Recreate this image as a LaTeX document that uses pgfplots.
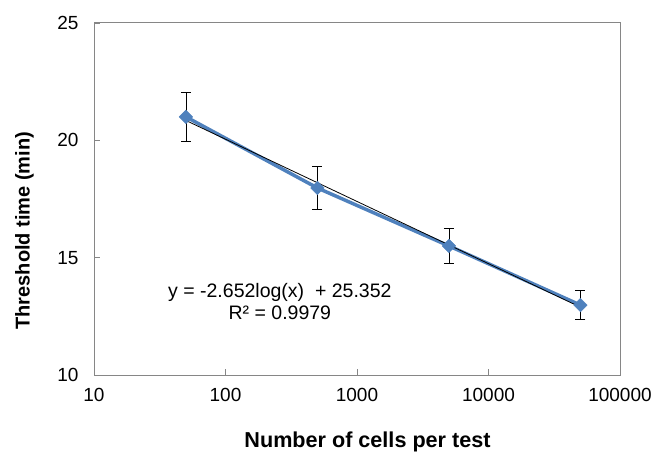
\documentclass[border=0pt]{standalone}
\usepackage{fontspec}
\setmainfont{Liberation Sans}
\usepackage{pgfplots}
\pgfplotsset{compat=1.18}
\definecolor{xlblue}{RGB}{79,129,189}
\definecolor{axgray}{RGB}{134,134,134}

\begin{document}
\begin{tikzpicture}
\begin{axis}[
    name=ax,
    scale only axis,
    width=526pt, height=352pt,
    xmode=log, log basis x=10,
    xmin=10, xmax=100000,
    ymin=10, ymax=25,
    xtick={10,100,1000,10000,100000},
    xticklabels={10,100,1000,10000,100000},
    ytick={10,15,20,25},
    xminorticks=false,
    tick align=inside,
    tick pos=left,
    major tick length=6pt,
    axis line style={axgray, line width=1pt},
    tick style={axgray, line width=0.8pt},
    /pgf/number format/assume math mode=true,
    ticklabel style={font=\fontsize{19}{22}\selectfont},
    xticklabel style={yshift=-10pt},
    yticklabel style={xshift=-12pt},
    xlabel={Number of cells per test},
    ylabel={Threshold time (min)},
    xlabel style={font=\fontsize{21.6}{24}\selectfont\bfseries,
        at={(axis description cs:0.52,-0.19)}, anchor=center},
    ylabel style={font=\fontsize{20}{24}\selectfont\bfseries,
        at={(axis description cs:-0.132,0.41)}, anchor=center},
]
% measured series, blue line under everything
\addplot[xlblue, line width=3.5pt] coordinates {(50,21) (500,17.97) (5000,15.5) (50000,12.98)};
% log trendline
\addplot[black, line width=0.8pt] coordinates {(50,20.846) (50000,12.890)};
% markers + error bars on top
\addplot[only marks, mark=square*, mark size=4.8pt,
    mark options={xlblue, fill=xlblue, rotate=45},
    error bars/.cd, y dir=both, y explicit,
    error bar style={black, line width=0.8pt},
    error mark options={black, line width=0.8pt, mark size=5pt, rotate=90}]
    coordinates {
    (50,21) +- (0,1.05)
    (500,17.97) +- (0,0.9)
    (5000,15.5) +- (0,0.75)
    (50000,12.98) +- (0,0.63)
};
\node[font=\fontsize{19.5}{22}\selectfont, align=center] at (axis cs:259,13.15)
    {y = -2.652log(x)\ \ + 25.352\\R² = 0.9979};
\end{axis}
\pgfresetboundingbox
\path ([xshift=-94pt,yshift=-80pt]ax.south west) rectangle ([xshift=35pt,yshift=23pt]ax.north east);
\end{tikzpicture}
\end{document}
